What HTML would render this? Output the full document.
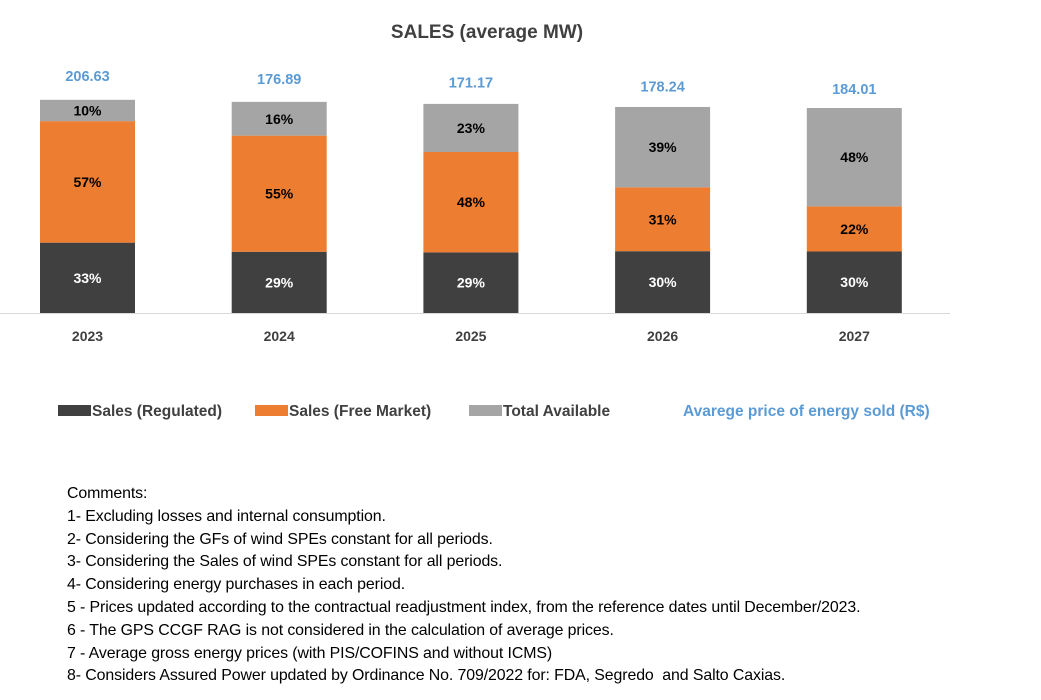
<!DOCTYPE html>
<html><head><meta charset="utf-8"><style>
body{margin:0;background:#fff;width:1041px;height:700px;overflow:hidden;font-family:"Liberation Sans",sans-serif;}
#comments{position:absolute;left:67px;top:483px;font-size:15.9px;color:#000;line-height:22.8px;letter-spacing:-0.1px}
</style></head><body>
<svg id="chart" width="1041" height="470" style="position:absolute;left:0;top:0" font-family="Liberation Sans, sans-serif">
<text x="487" y="38" text-anchor="middle" font-size="19" font-weight="bold" fill="#404040">SALES (average MW)</text>
<line x1="0" y1="313.5" x2="950" y2="313.5" stroke="#d9d9d9"/>
<g id="bars"></g>
<g font-size="15.5" font-weight="bold" fill="#404040">
<rect x="58" y="405" width="33" height="11" fill="#404040"/>
<text x="92" y="416">Sales (Regulated)</text>
<rect x="255" y="405" width="33" height="11" fill="#ed7d31"/>
<text x="289" y="416">Sales (Free Market)</text>
<rect x="469" y="405" width="33" height="11" fill="#a5a5a5"/>
<text x="503" y="416">Total Available</text>
<text x="683" y="416" fill="#5b9bd5">Avarege price of energy sold (R$)</text>
</g>
</svg>
<div id="comments">
<div>Comments:</div>
<div>1- Excluding losses and internal consumption.</div>
<div>2- Considering the GFs of wind SPEs constant for all periods.</div>
<div>3- Considering the Sales of wind SPEs constant for all periods.</div>
<div>4- Considering energy purchases in each period.</div>
<div>5 - Prices updated according to the contractual readjustment index, from the reference dates until December/2023.</div>
<div>6 - The GPS CCGF RAG is not considered in the calculation of average prices.</div>
<div>7 - Average gross energy prices (with PIS/COFINS and without ICMS)</div>
<div>8- Considers Assured Power updated by Ordinance No. 709/2022 for: FDA, Segredo&nbsp; and Salto Caxias.</div>
</div>
<script>
const years=["2023","2024","2025","2026","2027"];
const totals=[209,207,205,202,201];
const regulated=[33,29,29,30,30];
const freeMarket=[57,55,48,31,22];
const available=[10,16,23,39,48];
const prices=["206.63","176.89","171.17","178.24","184.01"];
const NS="http://www.w3.org/2000/svg";
const g=document.getElementById("bars");
const y0=313,yScale=v=>y0-v*1.02;
const xC=i=>87.5+i*191.7;
const bw=95;
function mk(tag,attrs){const e=document.createElementNS(NS,tag);for(const k in attrs)e.setAttribute(k,attrs[k]);g.appendChild(e);return e;}
years.forEach((yr,i)=>{
  const segs=[[regulated[i],"#404040","#fff","regulated"],[freeMarket[i],"#ed7d31","#000","free-market"],[available[i],"#a5a5a5","#000","available"]];
  const sum=regulated[i]+freeMarket[i]+available[i];
  let acc=0;
  segs.forEach(s=>{
    const yb=yScale(totals[i]*acc/sum), yt=yScale(totals[i]*(acc+s[0])/sum);
    const r=mk("rect",{x:xC(i)-bw/2,y:yt,width:bw,height:yb-yt,fill:s[1]});
    
    
    const t=mk("text",{x:xC(i),y:(yt+yb)/2+5,"text-anchor":"middle","font-size":"14","font-weight":"bold",fill:s[2]});
    t.textContent=s[0]+"%";
    
    
    acc+=s[0];
  });
  const p=mk("text",{x:xC(i),y:yScale(totals[i])-19+i*1.2,"text-anchor":"middle","font-size":"14.5","font-weight":"bold",fill:"#5b9bd5"});
  p.textContent=prices[i];
  
  
  const yl=mk("text",{x:xC(i),y:341,"text-anchor":"middle","font-size":"14","font-weight":"bold",fill:"#404040"});
  yl.textContent=yr;
  
  
});
</script>
</body></html>
